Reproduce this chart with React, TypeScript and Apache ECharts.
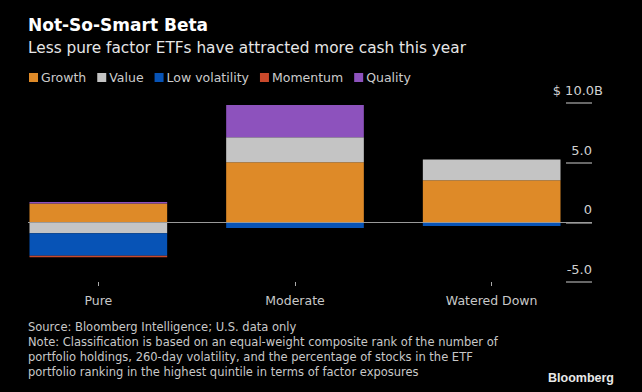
import React, { useEffect, useRef } from "react";
import * as echarts from "echarts";

const categories = ["Pure", "Moderate", "Watered Down"];
const growth = [1.57, 5.04, 3.53];
const value = [-0.92, 2.1, 1.74];
const lowVolatility = [-1.88, -0.48, -0.31];
const momentum = [-0.12, 0, 0];
const quality = [0.13, 2.69, 0];
const yTicks = [-5, 0, 5, 10];

const FONT = "DejaVu Sans";

export default function App() {
  const ref = useRef<HTMLDivElement>(null);
  useEffect(() => {
    if (!ref.current) return;
    const chart = echarts.init(ref.current, null, { renderer: "svg" });
    const mk = (name: string, data: number[], color: string) => ({
      name,
      type: "bar",
      stack: "total",
      data,
      barWidth: "70%",
      itemStyle: { color },
      emphasis: { disabled: true },
    });
    const series: any[] = [
      mk("Growth", growth, "#de8a28"),
      mk("Value", value, "#c4c4c4"),
      mk("Low volatility", lowVolatility, "#0753b6"),
      mk("Momentum", momentum, "#c9492b"),
      mk("Quality", quality, "#8d52bd"),
    ];
    series[0].markLine = {
      silent: true,
      symbol: "none",
      label: { show: false },
      lineStyle: { color: "#9a9a9a", width: 1, type: "solid" },
      data: [[{ x: 28, yAxis: 0 }, { x: 592, yAxis: 0 }]],
    };
    const lbl = { color: "#d0d0d0", fontSize: 13, fontFamily: FONT };
    chart.setOption({
      animation: false,
      backgroundColor: "#000000",
      textStyle: { fontFamily: FONT },
      title: [
        {
          text: "Not-So-Smart Beta",
          left: 23,
          top: 11,
          textStyle: { color: "#ffffff", fontSize: 17, fontWeight: "bold", fontFamily: FONT },
        },
        {
          text: "Less pure factor ETFs have attracted more cash this year",
          left: 23,
          top: 35,
          textStyle: { color: "#e6e6e6", fontSize: 15.3, fontWeight: "normal", fontFamily: FONT },
        },
        {
          text:
            "Source: Bloomberg Intelligence; U.S. data only\nNote: Classification is based on an equal-weight composite rank of the number of\nportfolio holdings, 260-day volatility, and the percentage of stocks in the ETF\nportfolio ranking in the highest quintile in terms of factor exposures",
          left: 23,
          top: 314,
          textStyle: { color: "#c8c8c8", fontSize: 11.5, fontWeight: "normal", lineHeight: 15, fontFamily: FONT },
        },
        {
          text: "Bloomberg",
          left: 543,
          top: 366,
          textStyle: { color: "#e8e8e8", fontSize: 12.5, fontWeight: "bold", fontFamily: "Liberation Sans" },
        },
      ],
      legend: {
        left: 24,
        top: 66,
        icon: "rect",
        itemWidth: 9,
        itemHeight: 9,
        itemGap: 11,
        textStyle: { color: "#cccccc", fontSize: 12.5, fontFamily: FONT, padding: [0, 0, 0, -2] },
        data: ["Growth", "Value", "Low volatility", "Momentum", "Quality"],
        selectedMode: false,
      },
      grid: { left: -1, right: 52, top: 103, bottom: 110, containLabel: false },
      xAxis: {
        type: "category",
        data: categories,
        axisLine: { show: false, onZero: false },
        axisTick: { show: true, alignWithLabel: true, length: 4, lineStyle: { color: "#aaaaaa" } },
        axisLabel: { color: "#c8c8c8", fontSize: 12.5, margin: 12, fontFamily: FONT },
      },
      yAxis: {
        type: "value",
        position: "right",
        offset: 2,
        min: yTicks[0],
        max: yTicks[yTicks.length - 1],
        interval: 5,
        splitLine: { show: false },
        axisLine: { show: false },
        axisTick: { show: true, inside: true, length: 26, lineStyle: { color: "#8a8a8a", width: 1.5 } },
        axisLabel: {
          inside: true,
          margin: -11,
          verticalAlign: "bottom",
          ...lbl,
          formatter: (v: number) =>
            v === 10 ? "{m|$ 10.0B}" : "{n|" + (v === 0 ? "0" : v.toFixed(1)) + "}",
          rich: {
            m: { ...lbl, padding: [0, 0, 6, 0] },
            n: { ...lbl, padding: [0, 11, 6, 0] },
          },
        },
      },
      series,
    });
    return () => chart.dispose();
  }, []);
  return (
    <div
      ref={ref}
      style={{ position: "fixed", left: 0, top: 0, width: 642, height: 392 }}
    />
  );
}
